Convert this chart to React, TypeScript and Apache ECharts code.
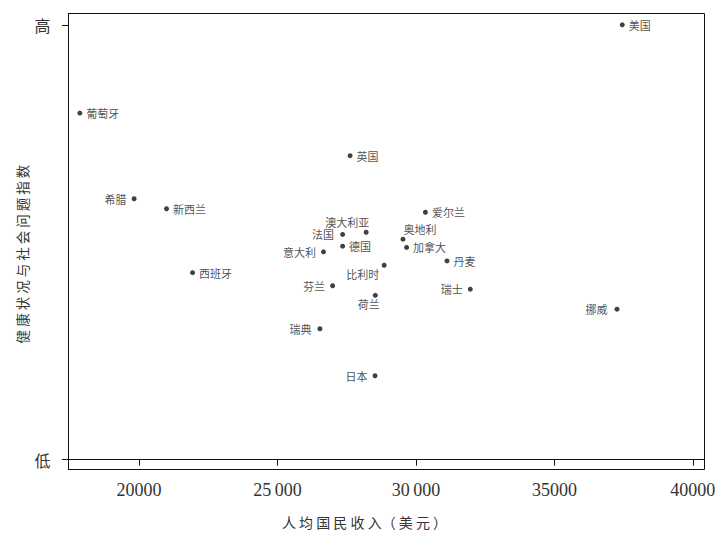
import React, { useEffect, useRef } from 'react';
import * as echarts from 'echarts';

const countries = ['美国', '葡萄牙', '英国', '希腊', '新西兰', '爱尔兰', '澳大利亚', '法国', '奥地利', '德国', '加拿大', '意大利', '西班牙', '丹麦', '比利时', '芬兰', '瑞士', '荷兰', '挪威', '瑞典', '日本'];
const income = [37450, 17860, 27620, 19820, 20990, 30340, 28200, 27350, 29530, 27350, 29660, 26660, 21930, 31120, 28850, 26990, 31960, 28530, 37260, 26530, 28520];
const healthIndex = [100, 79.7, 69.9, 60.0, 57.7, 56.9, 52.3, 51.8, 50.7, 49.1, 48.8, 47.8, 43.0, 45.7, 44.7, 40.0, 39.2, 37.8, 34.6, 30.1, 19.3];

const xTickValues = [20000, 25000, 30000, 35000, 40000];
const xTickLabels = ['20000', '25\u2009000', '30\u2009000', '35000', '40000'];
const yTickValues = [0, 100];
const yTickLabels = ['低', '高'];

const xAxisTitle = '人 均 国 民 收 入（ 美 元 ）';
const yAxisTitle = '健 康 状 况 与 社 会 问 题 指 数';

// label placement (style, kept apart from the data)
const rightLabels = ['美国', '葡萄牙', '英国', '新西兰', '爱尔兰', '德国', '加拿大', '西班牙', '丹麦'];
const specialLabels: Record<string, { align: string; offset: [number, number] }> = {
  '澳大利亚': { align: 'right', offset: [3, -10] },
  '奥地利': { align: 'left', offset: [0.5, -10] },
  '比利时': { align: 'right', offset: [-5, 8.7] },
  '荷兰': { align: 'center', offset: [-6.5, 9] },
  '法国': { align: 'right', offset: [-8.5, 0] },
  '瑞典': { align: 'right', offset: [-8.5, 0] },
  '挪威': { align: 'right', offset: [-9.5, 0] },
};

const CJK = '"Noto Sans CJK SC", sans-serif';

export default function App() {
  const ref = useRef<HTMLDivElement>(null);
  useEffect(() => {
    document.body.style.margin = '0';
    const chart = echarts.init(ref.current!, null, { renderer: 'svg' });
    const data = countries.map((name, i) => {
      let placement = specialLabels[name];
      if (!placement) {
        placement = rightLabels.includes(name)
          ? { align: 'left', offset: [6.5, 0] }
          : { align: 'right', offset: [-7.5, 0] };
      }
      return {
        name,
        value: [income[i], healthIndex[i]],
        label: {
          show: true,
          position: 'inside',
          align: placement.align,
          verticalAlign: 'middle',
          offset: placement.offset,
          formatter: name,
        },
      };
    });
    chart.setOption({
      animation: false,
      backgroundColor: '#fff',
      grid: {
        left: 68.5,
        right: 21.5,
        top: 13.5,
        bottom: 66.5,
        show: true,
        borderColor: '#111',
        borderWidth: 1,
      },
      xAxis: {
        type: 'value',
        min: 17450,
        max: 40420,
        splitLine: { show: false },
        axisLine: { show: true, lineStyle: { color: '#111', width: 1 } },
        axisTick: { show: true, customValues: xTickValues, length: 6, lineStyle: { color: '#111' } },
        axisLabel: {
          customValues: xTickValues,
          formatter: (v: number) => xTickLabels[xTickValues.indexOf(v)] ?? '',
          fontFamily: '"Liberation Serif", serif',
          fontSize: 18,
          color: '#333',
          margin: 11,
        },
      },
      yAxis: {
        type: 'value',
        min: -2.26,
        max: 102.6,
        splitLine: { show: false },
        axisLine: { show: true, lineStyle: { color: '#111', width: 1 } },
        axisTick: { show: true, customValues: yTickValues, length: 6.5, lineStyle: { color: '#111' } },
        axisLabel: {
          customValues: yTickValues,
          formatter: (v: number) => yTickLabels[yTickValues.indexOf(v)] ?? '',
          fontFamily: CJK,
          fontSize: 16,
          color: '#333',
          margin: 18,
        },
      },
      series: [
        {
          type: 'scatter',
          symbol: 'circle',
          symbolSize: 5,
          itemStyle: { color: '#111' },
          label: {
            show: true,
            color: '#222',
            fontFamily: CJK,
            fontSize: 11,
          },
          emphasis: { disabled: true },
          data,
        },
      ],
      graphic: [
        {
          type: 'text',
          x: 22,
          y: 254,
          rotation: Math.PI / 2,
          style: {
            text: yAxisTitle,
            fontFamily: CJK,
            fontSize: 13.5,
            fill: '#333',
            align: 'center',
            verticalAlign: 'middle',
          },
        },
        {
          type: 'text',
          x: 364.5,
          y: 522,
          style: {
            text: xAxisTitle,
            fontFamily: CJK,
            fontSize: 14,
            fill: '#333',
            align: 'center',
            verticalAlign: 'middle',
          },
        },
      ],
    });
    return () => chart.dispose();
  }, []);
  return <div ref={ref} style={{ width: 726, height: 536 }} />;
}
